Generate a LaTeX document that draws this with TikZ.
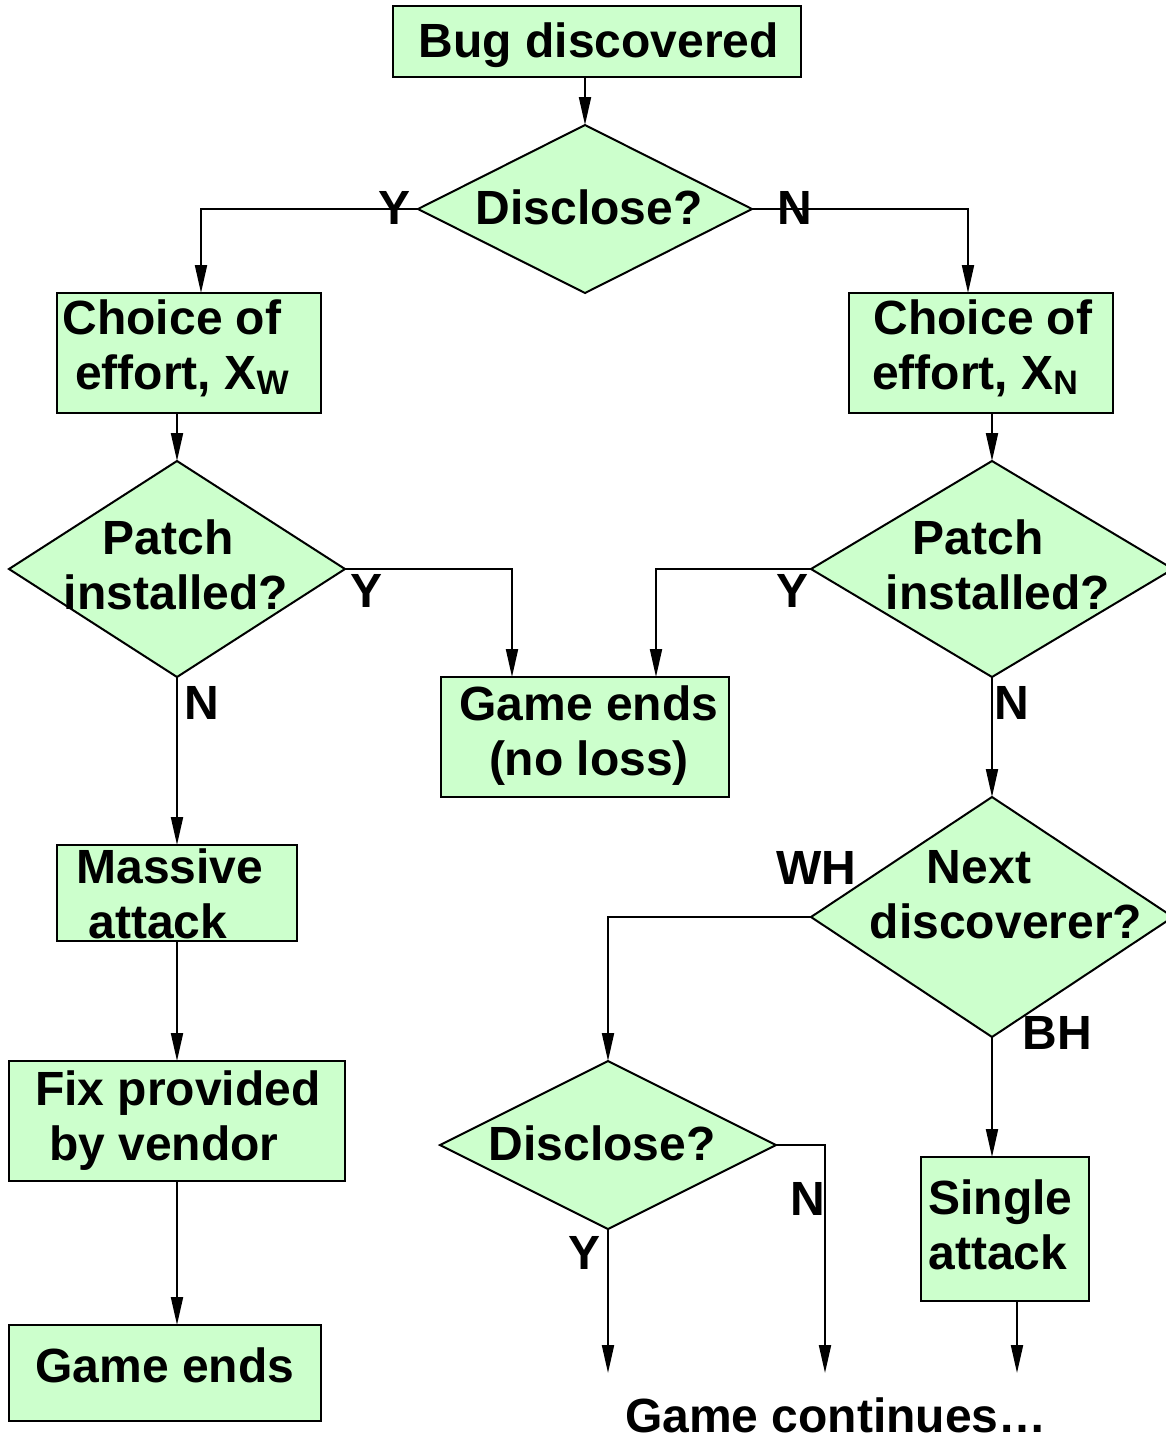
\documentclass[tikz,border=0pt]{standalone}
\usepackage{fontspec}
\setmainfont{Liberation Sans}
\usetikzlibrary{shapes.geometric,arrows.meta,calc}
\definecolor{boxgreen}{HTML}{CCFFCC}
\newcommand{\sbsc}[1]{\raisebox{-2.5pt}{\fontsize{17}{17}\selectfont #1}}
\tikzset{
  fbox/.style={draw=black,fill=boxgreen,line width=1pt,rectangle,inner sep=0pt,outer sep=0pt},
  fdia/.style={draw=black,fill=boxgreen,line width=1pt,diamond,inner sep=0pt,outer sep=0pt},
  txt/.style={font=\fontsize{24}{27.5}\selectfont\bfseries,inner sep=0pt,anchor=base,align=center},
  conn/.style={line width=1pt,-{Triangle[length=14pt,width=6pt]}},
  plain/.style={line width=1pt}
}
\begin{document}
\begin{tikzpicture}[x=0.5pt,y=-0.5pt]
\path[use as bounding box] (0,0) rectangle (1166,1441);
\clip (0,0) rectangle (1166,1441);
% shapes
\node[fbox,minimum width=204pt,minimum height=35.5pt] (bug) at (597,41.5) {};
\node[fdia,minimum width=167pt,minimum height=84pt] (d1) at (585,209) {};
\node[fbox,minimum width=132pt,minimum height=60pt] (cw) at (189,353) {};
\node[fbox,minimum width=132pt,minimum height=60pt] (cn) at (981,353) {};
\node[fdia,minimum width=168pt,minimum height=108pt] (pw) at (177,569) {};
\node[fdia,minimum width=181pt,minimum height=108pt] (pn) at (992,569) {};
\node[fbox,minimum width=144pt,minimum height=60pt] (ge) at (585,737) {};
\node[fbox,minimum width=120pt,minimum height=48pt] (ma) at (177,893) {};
\node[fdia,minimum width=181pt,minimum height=120pt] (nd) at (992,917) {};
\node[fbox,minimum width=168pt,minimum height=60pt] (fix) at (177,1121) {};
\node[fdia,minimum width=168pt,minimum height=84pt] (d2) at (608,1145) {};
\node[fbox,minimum width=84pt,minimum height=72pt] (sa) at (1005,1229) {};
\node[fbox,minimum width=156pt,minimum height=48pt] (gend) at (165,1373) {};
% texts (multi-line nodes: anchor base = last line)
\node[txt] (tbug) at (599,57) {Bug discovered};
\node[txt] (td1) at (589,224) {Disclose?};
\node[txt] (tcw) at (182,389) {Choice of\hspace*{10pt}\\ effort, X\sbsc{W}};
\node[txt] (tcn) at (975,389) {\hspace*{8pt}Choice of\\ effort, X\sbsc{N}};
\node[txt] (tpw) at (176,609) {Patch\hspace*{8pt}\\ installed?};
\node[txt] (tpn) at (998,609) {Patch\hspace*{20pt}\\ installed?};
\node[txt] (tge) at (589,775) {Game ends\\ (no loss)};
\node[txt] (tma) at (170,938) {Massive\\ attack\hspace*{12pt}};
\node[txt] (tnd) at (1006,938) {Next\hspace*{27pt}\\ discoverer?};
\node[txt] (tfix) at (178,1160) {Fix provided\\ by vendor\hspace*{14pt}};
\node[txt] (td2) at (602,1160) {Disclose?};
\node[txt,align=left,anchor=base west] (tsa) at (928,1269) {Single\\ attack};
\node[txt] (tgend) at (165,1382) {Game ends};
\node[txt] (tgc) at (836,1432) {Game continues\ldots};
% branch labels
\node[txt] (l1) at (395,224) {Y};
\node[txt] (l2) at (795,224) {N};
\node[txt] (l3) at (367,607) {Y};
\node[txt] (l4) at (202,719) {N};
\node[txt] (l5) at (792,607) {Y};
\node[txt] (l6) at (1012,719) {N};
\node[txt] (l7) at (816,884) {WH};
\node[txt] (l8) at (1057,1049) {BH};
\node[txt] (l9) at (808,1215) {N};
\node[txt] (l10) at (585,1269) {Y};
% free ends
\coordinate (endY) at (608,1373);
\coordinate (endN) at (825,1373);
\coordinate (endS) at (1017,1373);
\coordinate (cornN) at (825,1145);
% connectors
\draw[conn] (d1.north |- bug.south) -- (d1.north);
\draw[conn] (d1.west) -| ([xshift=6pt]cw.north);
\draw[conn] (d1.east) -| ([xshift=-6.5pt]cn.north);
\draw[conn] (pw.north |- cw.south) -- (pw.north);
\draw[conn] (pn.north |- cn.south) -- (pn.north);
\draw[conn] (pw.east) -| ([xshift=-36.5pt]ge.north);
\draw[conn] (pn.west) -| ([xshift=35.5pt]ge.north);
\draw[conn] (pw.south) -- (ma.north);
\draw[conn] (ma.south) -- (fix.north);
\draw[conn] (fix.south) -- (fix.south |- gend.north);
\draw[conn] (pn.south) -- (nd.north);
\draw[conn] (nd.west) -| (d2.north);
\draw[conn] (nd.south) -- (nd.south |- sa.north);
\draw[conn] (d2.east) -- (cornN) -- (endN);
\draw[conn] (d2.south) -- (endY);
\draw[conn] (sa.south -| endS) -- (endS);
\end{tikzpicture}
\end{document}
